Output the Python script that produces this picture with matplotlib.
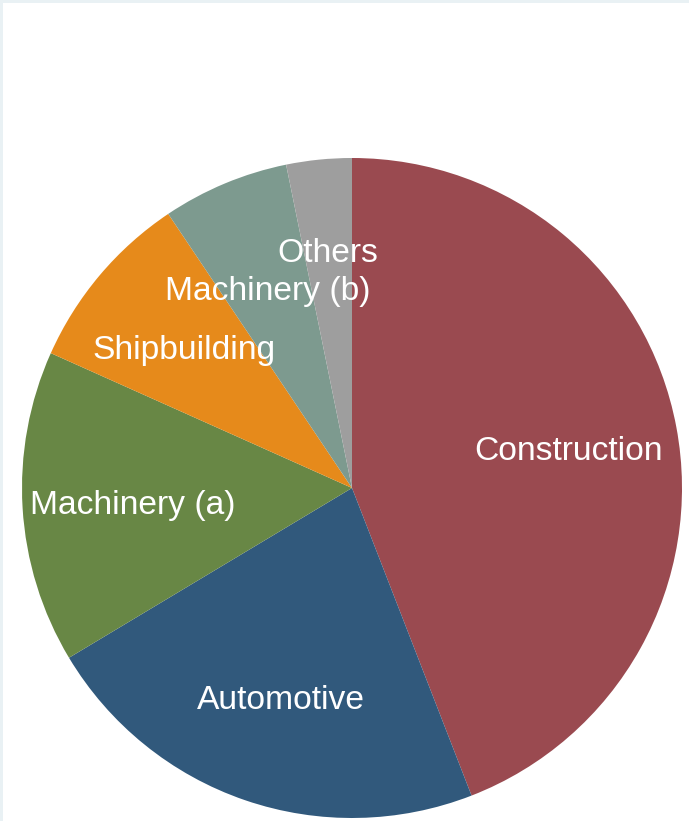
import numpy as np
import matplotlib.pyplot as plt
from matplotlib.patches import Rectangle

sectors = ['Construction', 'Automotive', 'Machinery (a)', 'Shipbuilding', 'Machinery (b)', 'Others']
shares = [44.1, 22.3, 15.3, 8.9, 6.2, 3.2]
colors = ['#9a4a50', '#31597c', '#688745', '#e68a1b', '#7d9a8f', '#9e9e9e']

fig = plt.figure(figsize=(6.89, 8.21), dpi=100, facecolor='#e9f1f4')
ax = fig.add_axes([0, 0, 1, 1])
ax.set_xlim(0, 689)
ax.set_ylim(0, 821)
ax.set_aspect('equal')
ax.axis('off')
ax.add_patch(Rectangle((3, 0), 686, 818, facecolor='white', edgecolor='none', zorder=0))

cx, cy, r = 352, 333, 330
wedges, texts = ax.pie(shares, labels=sectors, colors=colors, startangle=90,
                       counterclock=False, center=(cx, cy), radius=r,
                       labeldistance=0.667, frame=True,
                       wedgeprops=dict(linewidth=0),
                       textprops=dict(color='white', fontsize=24.2,
                                      family='Liberation Sans',
                                      ha='center', va='center'))

# label radius (fraction of r); "Others" pushed out to clear "Machinery (b)"
dists = [0.667, 0.667, 0.667, 0.667, 0.66, 0.727]
for w, t, d in zip(wedges, texts, dists):
    mid = np.deg2rad((w.theta1 + w.theta2) / 2)
    t.set_ha('center')
    t.set_va('center')
    t.set_position((cx + d * r * np.cos(mid), cy + d * r * np.sin(mid) - 4))

ax.set_xlim(0, 689)
ax.set_ylim(0, 821)
ax.axis('off')
fig.savefig('out.png', dpi=100, facecolor=fig.get_facecolor())
